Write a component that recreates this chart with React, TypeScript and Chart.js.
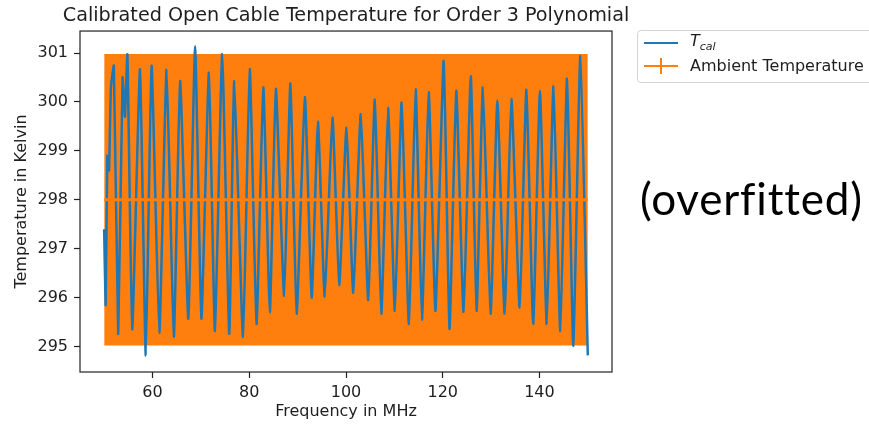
import React, { useEffect, useRef } from "react";
import { Chart, registerables } from "chart.js";

Chart.register(...registerables);

// ---- data ----
const tcalFreq = [
  50.0, 50.3, 50.65, 51.0, 51.4, 52.0, 52.9, 53.8, 54.3, 54.8, 55.8, 57.4, 58.6, 59.8,
  61.4, 62.9, 64.4, 65.7, 67.4, 68.8, 70.1, 71.65, 72.9, 74.4, 75.85, 76.9, 78.7, 80.1,
  81.5, 82.9, 84.25, 85.5, 87.2, 88.5, 89.8, 91.5, 92.9, 94.2, 95.6, 97.2, 98.6, 100.1,
  101.5, 103.05, 104.6, 105.95, 107.3, 108.7, 110.1, 111.5, 113.0, 114.4, 115.7, 117.1,
  118.5, 120.2, 121.4, 122.8, 124.3, 125.8, 127.0, 128.3, 129.9, 131.3, 132.8, 134.2,
  135.9, 137.3, 138.7, 140.1, 141.5, 142.9, 144.3, 145.7, 147.0, 148.45, 150.0,
];
const tcalTemp = [
  297.4, 295.85, 298.9, 298.6, 300.3, 300.74, 295.26, 300.5, 299.7, 300.97, 295.35, 300.67, 294.82, 300.74,
  295.28, 300.66, 295.2, 300.43, 295.57, 301.14, 295.57, 300.6, 295.32, 300.98, 295.26, 300.43, 295.2, 300.67,
  295.46, 300.3, 295.7, 300.27, 296.04, 300.38, 295.67, 300.1, 296.0, 299.6, 296.02, 299.68, 296.26, 299.47,
  296.1, 299.75, 295.95, 300.05, 295.67, 299.88, 295.73, 299.99, 295.46, 300.26, 295.55, 300.2,
  295.73, 300.84, 295.36, 300.23, 295.71, 300.53, 295.73, 300.3, 295.67, 300.03, 295.67, 300.06,
  295.8, 300.25, 295.46, 300.23, 295.46, 300.32, 295.32, 300.48, 295.02, 300.94, 294.82,
];
const ambientFreq = [50, 150];
const ambientTemp = [298, 298];
const ambientErr = [2.98, 2.98];
const xTickValues = [60, 80, 100, 120, 140];
const yTickValues = [295, 296, 297, 298, 299, 300, 301];

const BLUE = "#1f77b4";
const ORANGE = "#ff7f0e";
const TEXT = "#1e1e1e";
const FONT = "'DejaVu Sans', sans-serif";

const framePlugin = {
  id: "frame",
  afterDatasetsDraw(chart: any) {
    const { ctx, chartArea: a } = chart;
    ctx.save();
    ctx.strokeStyle = "#222";
    ctx.lineWidth = 1.2;
    ctx.strokeRect(a.left, a.top, a.right - a.left, a.bottom - a.top);
    ctx.restore();
  },
};

export default function App() {
  const ref = useRef<HTMLCanvasElement | null>(null);

  useEffect(() => {
    if (!ref.current) return;
    const tcal = tcalFreq.map((f, i) => ({ x: f, y: tcalTemp[i] }));
    const amb = ambientFreq.map((f, i) => ({ x: f, y: ambientTemp[i] }));
    const upper = ambientFreq.map((f, i) => ({ x: f, y: ambientTemp[i] + ambientErr[i] }));
    const lower = ambientFreq.map((f, i) => ({ x: f, y: ambientTemp[i] - ambientErr[i] }));

    const chart = new Chart(ref.current, {
      type: "line",
      data: {
        datasets: [
          {
            label: "Ambient Temperature",
            data: amb,
            borderColor: ORANGE,
            borderWidth: 3,
            pointRadius: 0,
            fill: false,
            order: 0,
          },
          {
            label: "T_cal",
            data: tcal,
            borderColor: BLUE,
            borderWidth: 2.5,
            pointRadius: 0,
            tension: 0.15,
            fill: false,
            order: 1,
          },
          {
            label: "err+",
            data: upper,
            borderColor: ORANGE,
            backgroundColor: ORANGE,
            borderWidth: 0,
            pointRadius: 0,
            fill: "+1",
            order: 2,
          },
          {
            label: "err-",
            data: lower,
            borderColor: ORANGE,
            borderWidth: 0,
            pointRadius: 0,
            fill: false,
            order: 3,
          },
        ],
      },
      options: {
        responsive: false,
        animation: false,
        events: [],
        layout: { padding: { left: 0, right: 177, top: 0, bottom: 0 } },
        plugins: {
          legend: { display: false },
          tooltip: { enabled: false },
          title: {
            display: true,
            text: "Calibrated Open Cable Temperature for Order 3 Polynomial",
            fullSize: true,
            color: TEXT,
            font: { family: FONT, size: 19.2, weight: "normal", lineHeight: 1.2 },
            padding: { top: 4.6, bottom: 3.4 },
          },
        },
        scales: {
          x: {
            type: "linear",
            min: 45,
            max: 155,
            afterBuildTicks: (s: any) => {
              s.ticks = xTickValues.map((v) => ({ value: v }));
            },
            afterFit: (s: any) => {
              s.height = 52;
            },
            border: { display: false },
            grid: { drawOnChartArea: false, drawTicks: true, tickLength: 6, color: "#222", tickWidth: 1.2 },
            ticks: { color: TEXT, font: { family: FONT, size: 16 }, padding: 5, maxRotation: 0 },
            title: {
              display: true,
              text: "Frequency in MHz",
              color: TEXT,
              font: { family: FONT, size: 16, lineHeight: 1.2 },
              padding: { top: 0, bottom: 3 },
            },
          },
          y: {
            type: "linear",
            min: 294.48,
            max: 301.45,
            afterBuildTicks: (s: any) => {
              s.ticks = yTickValues.map((v) => ({ value: v }));
            },
            afterFit: (s: any) => {
              s.width = 80;
            },
            border: { display: false },
            grid: { drawOnChartArea: false, drawTicks: true, tickLength: 6, color: "#222", tickWidth: 1.2 },
            ticks: { color: TEXT, font: { family: FONT, size: 16 }, padding: 6 },
            title: {
              display: true,
              text: "Temperature in Kelvin",
              color: TEXT,
              font: { family: FONT, size: 16, lineHeight: 1.2 },
              padding: { top: 12, bottom: 0 },
            },
          },
          yRightSpacer: {
            type: "linear",
            position: "right",
            display: true,
            min: 294.48,
            max: 301.45,
            afterFit: (s: any) => {
              s.width = 80;
            },
            border: { display: false },
            grid: { display: false, drawTicks: false },
            ticks: { display: false },
          },
        },
      },
      plugins: [framePlugin],
    });
    return () => chart.destroy();
  }, []);

  return (
    <div style={{ position: "absolute", left: 0, top: 0, width: 869, height: 424, overflow: "hidden", background: "#fff" }}>
      <canvas ref={ref} width={869} height={424} style={{ display: "block", width: 869, height: 424 }} />
      <div
        style={{
          position: "absolute",
          left: 637,
          top: 30,
          width: 260,
          height: 51,
          border: "1px solid #d4d4d4",
          borderRadius: 4,
          background: "#fff",
          fontFamily: FONT,
          fontSize: 16,
          color: TEXT,
        }}
      >
        <div style={{ position: "absolute", left: 6, top: 11, width: 34, height: 2.4, background: BLUE }} />
        <div style={{ position: "absolute", left: 52, top: 0, lineHeight: "20px", whiteSpace: "nowrap" }}>
          <i>T</i>
          <sub style={{ fontSize: 11, fontStyle: "italic" }}>cal</sub>
        </div>
        <div style={{ position: "absolute", left: 6, top: 34, width: 34, height: 2, background: ORANGE }} />
        <div style={{ position: "absolute", left: 22, top: 27, width: 2, height: 16, background: ORANGE }} />
        <div style={{ position: "absolute", left: 52, top: 25, lineHeight: "20px", whiteSpace: "nowrap" }}>
          Ambient Temperature
        </div>
      </div>
      <div
        style={{
          position: "absolute",
          left: 640,
          top: 172,
          fontFamily: "Lato, 'Open Sans', sans-serif",
          fontSize: 44,
          letterSpacing: 0.8,
          lineHeight: "52px",
          color: "#000",
          whiteSpace: "nowrap",
        }}
      >
        (overfitted)
      </div>
    </div>
  );
}
